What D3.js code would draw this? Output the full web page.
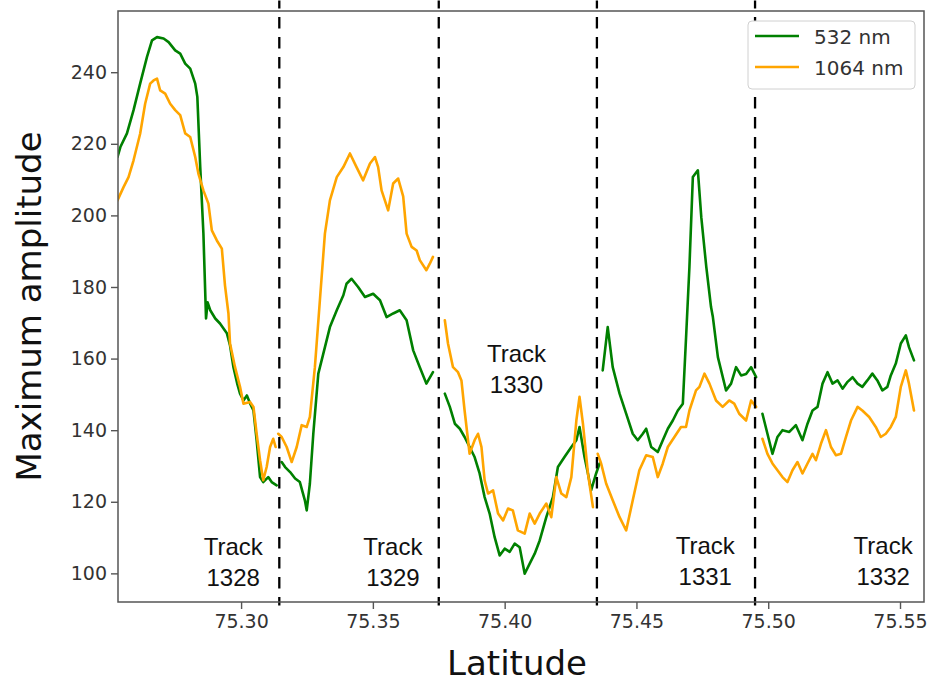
<!DOCTYPE html>
<html>
<head>
<meta charset="utf-8">
<script src="https://cdn.jsdelivr.net/npm/d3@7"></script>
<style>
  html, body { margin: 0; padding: 0; background: #fff; }
</style>
</head>
<body>
<div id="chart"></div>
<script>
// ---- data (latitude, maximum amplitude) ----
const green1328 = [
  [75.2531, 216.3], [75.2542, 219.1], [75.2567, 222.9], [75.2592, 229.4], [75.2617, 236.8],
  [75.2643, 244.3], [75.2662, 248.9], [75.2681, 249.8], [75.2706, 249.4], [75.2725, 248.4],
  [75.2750, 246.1], [75.2769, 245.2], [75.2788, 242.4], [75.2807, 241.0], [75.2826, 236.8],
  [75.2834, 233.1], [75.2845, 213.5], [75.2857, 195.0], [75.2867, 171.2], [75.2873, 175.7],
  [75.2883, 173.5], [75.2902, 171.2], [75.2920, 169.8], [75.2946, 167.1], [75.2958, 163.7],
  [75.2971, 157.6], [75.2985, 153.1], [75.2996, 150.2], [75.3009, 148.3], [75.3022, 149.7],
  [75.3034, 147.5], [75.3047, 145.5], [75.3059, 137.2], [75.3072, 126.9], [75.3084, 125.5],
  [75.3103, 126.9], [75.3116, 125.5], [75.3135, 124.6]
];
const orange1328 = [
  [75.2531, 204.2], [75.2554, 207.9], [75.2573, 210.7], [75.2592, 215.4], [75.2617, 222.8],
  [75.2636, 231.2], [75.2655, 236.8], [75.2668, 237.7], [75.2681, 238.2], [75.2693, 234.9],
  [75.2712, 234.0], [75.2731, 231.2], [75.2750, 229.4], [75.2769, 228.0], [75.2788, 222.9],
  [75.2807, 221.9], [75.2826, 216.3], [75.2838, 211.7], [75.2857, 207.0], [75.2876, 203.3],
  [75.2889, 195.8], [75.2908, 193.0], [75.2927, 190.7], [75.2939, 180.4], [75.2952, 172.6],
  [75.2958, 164.2], [75.2977, 157.6], [75.2996, 152.1], [75.3009, 147.4], [75.3034, 147.9],
  [75.3047, 146.5], [75.3059, 139.0], [75.3072, 131.6], [75.3084, 126.0], [75.3097, 129.7],
  [75.3110, 135.3], [75.3122, 137.6], [75.3131, 135.3]
];
const green1329 = [
  [75.3154, 131.1], [75.3167, 129.7], [75.3186, 128.3], [75.3205, 126.5], [75.3223, 125.5],
  [75.3242, 120.4], [75.3249, 117.6], [75.3261, 125.1], [75.3274, 139.0], [75.3293, 155.8],
  [75.3312, 161.4], [75.3337, 168.8], [75.3363, 173.5], [75.3388, 177.7], [75.3400, 180.9],
  [75.3419, 182.3], [75.3444, 180.0], [75.3470, 177.2], [75.3501, 178.1], [75.3527, 176.3],
  [75.3552, 171.6], [75.3577, 172.6], [75.3602, 173.5], [75.3628, 170.7], [75.3653, 162.3],
  [75.3678, 157.6], [75.3703, 153.0], [75.3728, 156.2]
];
const orange1329 = [
  [75.3141, 139.0], [75.3154, 138.1], [75.3173, 135.3], [75.3192, 131.1], [75.3211, 135.3],
  [75.3230, 141.4], [75.3249, 140.9], [75.3261, 143.7], [75.3280, 157.6], [75.3299, 176.3],
  [75.3318, 194.9], [75.3337, 204.2], [75.3363, 210.7], [75.3388, 213.5], [75.3413, 217.3],
  [75.3438, 213.5], [75.3463, 209.8], [75.3489, 214.5], [75.3508, 216.3], [75.3520, 213.5],
  [75.3533, 207.0], [75.3558, 201.4], [75.3577, 208.9], [75.3596, 210.3], [75.3615, 205.3],
  [75.3628, 194.9], [75.3647, 191.2], [75.3666, 190.2], [75.3678, 187.5], [75.3703, 184.7],
  [75.3716, 186.5], [75.3728, 188.4]
];
const green1330 = [
  [75.3773, 150.2], [75.3792, 146.5], [75.3811, 141.8], [75.3830, 140.4], [75.3848, 138.1],
  [75.3867, 135.3], [75.3886, 132.5], [75.3905, 127.9], [75.3924, 121.3], [75.3943, 116.7],
  [75.3962, 110.1], [75.3981, 105.0], [75.4000, 106.9], [75.4019, 106.0], [75.4038, 108.3],
  [75.4057, 107.3], [75.4076, 99.9], [75.4095, 102.7], [75.4114, 105.5], [75.4133, 109.2],
  [75.4158, 115.7], [75.4183, 121.3], [75.4202, 129.7], [75.4227, 132.5], [75.4253, 135.3],
  [75.4272, 137.2], [75.4284, 140.9], [75.4303, 132.5], [75.4316, 127.9], [75.4328, 123.2],
  [75.4347, 127.9], [75.4360, 130.7]
];
const orange1330 = [
  [75.3773, 170.7], [75.3785, 164.2], [75.3804, 157.6], [75.3823, 156.2], [75.3836, 153.9],
  [75.3848, 145.5], [75.3867, 133.4], [75.3886, 137.2], [75.3899, 139.0], [75.3912, 135.3],
  [75.3924, 126.0], [75.3937, 122.3], [75.3956, 123.2], [75.3975, 116.7], [75.3994, 114.8],
  [75.4013, 118.1], [75.4031, 117.6], [75.4050, 112.0], [75.4076, 111.1], [75.4095, 116.7],
  [75.4114, 113.9], [75.4133, 116.7], [75.4158, 119.5], [75.4177, 115.7], [75.4196, 126.9],
  [75.4215, 122.3], [75.4234, 121.3], [75.4253, 126.9], [75.4272, 142.7], [75.4284, 149.3],
  [75.4297, 141.8], [75.4316, 127.9], [75.4335, 118.5]
];
const green1331 = [
  [75.4372, 156.7], [75.4391, 168.8], [75.4410, 157.6], [75.4436, 150.2], [75.4461, 144.6],
  [75.4486, 139.0], [75.4505, 137.2], [75.4524, 139.0], [75.4537, 140.4], [75.4556, 135.3],
  [75.4581, 133.9], [75.4600, 137.2], [75.4619, 140.4], [75.4638, 142.7], [75.4657, 145.5],
  [75.4676, 147.4], [75.4689, 167.0], [75.4701, 185.6], [75.4714, 210.7], [75.4733, 212.6],
  [75.4746, 199.5], [75.4765, 185.6], [75.4783, 174.4], [75.4790, 171.6], [75.4809, 160.4],
  [75.4840, 151.1], [75.4859, 153.0], [75.4878, 157.6], [75.4897, 155.3], [75.4916, 155.7],
  [75.4935, 157.6], [75.4954, 154.8]
];
const orange1331 = [
  [75.4353, 133.4], [75.4366, 130.7], [75.4385, 125.1], [75.4410, 120.4], [75.4436, 115.7],
  [75.4461, 112.0], [75.4486, 120.4], [75.4511, 128.8], [75.4537, 133.0], [75.4562, 132.5],
  [75.4581, 126.9], [75.4600, 130.7], [75.4619, 135.3], [75.4644, 138.1], [75.4669, 140.9],
  [75.4688, 140.9], [75.4701, 145.5], [75.4726, 151.1], [75.4739, 152.1], [75.4758, 155.8],
  [75.4777, 153.0], [75.4802, 148.3], [75.4827, 146.5], [75.4852, 148.3], [75.4871, 147.4],
  [75.4890, 144.6], [75.4916, 142.7], [75.4935, 148.3], [75.4954, 146.5]
];
const green1332 = [
  [75.4978, 144.6], [75.4997, 139.0], [75.5016, 133.4], [75.5035, 138.1], [75.5054, 140.0],
  [75.5080, 139.5], [75.5105, 141.4], [75.5130, 137.2], [75.5149, 141.8], [75.5168, 145.5],
  [75.5187, 146.5], [75.5206, 153.0], [75.5225, 156.2], [75.5244, 153.0], [75.5263, 153.9],
  [75.5282, 151.6], [75.5301, 153.5], [75.5320, 154.8], [75.5339, 153.0], [75.5357, 152.1],
  [75.5376, 153.9], [75.5395, 155.8], [75.5414, 153.9], [75.5433, 151.1], [75.5452, 152.1],
  [75.5465, 155.3], [75.5484, 158.6], [75.5503, 164.2], [75.5522, 166.5], [75.5534, 163.2],
  [75.5553, 159.5]
];
const orange1332 = [
  [75.4978, 137.6], [75.4997, 133.4], [75.5016, 130.7], [75.5035, 128.8], [75.5054, 126.9],
  [75.5073, 125.5], [75.5092, 128.8], [75.5111, 131.1], [75.5130, 127.9], [75.5149, 130.7],
  [75.5168, 133.4], [75.5181, 131.6], [75.5200, 136.2], [75.5219, 140.0], [75.5238, 135.3],
  [75.5257, 133.0], [75.5276, 133.4], [75.5295, 138.1], [75.5314, 142.7], [75.5339, 146.5],
  [75.5357, 145.5], [75.5383, 143.7], [75.5408, 140.9], [75.5427, 138.1], [75.5446, 139.0],
  [75.5465, 140.9], [75.5484, 143.7], [75.5503, 152.1], [75.5522, 156.7], [75.5534, 153.0],
  [75.5553, 145.5]
];

const trackBoundaries = [75.3145, 75.375, 75.435, 75.495];
const trackLabels = [
  { name: "1328", lat: 75.2970, value: 105.0 },
  { name: "1329", lat: 75.3576, value: 105.0 },
  { name: "1330", lat: 75.4045, value: 159.0 },
  { name: "1331", lat: 75.4761, value: 105.5 },
  { name: "1332", lat: 75.5436, value: 105.5 }
];
const xTicks = [75.30, 75.35, 75.40, 75.45, 75.50, 75.55];
const yTicks = [100, 120, 140, 160, 180, 200, 220, 240];

const seriesNames = ["532 nm", "1064 nm"];
const seriesColors = { "532 nm": "#008000", "1064 nm": "#ffa500" };
const segments532 = [green1328, green1329, green1330, green1331, green1332];
const segments1064 = [orange1328, orange1329, orange1330, orange1331, orange1332];

// ---- layout ----
const width = 930;
const height = 682;
const marginTop = 11;
const marginRight = 6;
const marginBottom = 80;
const marginLeft = 118;

const tickFont = "'DejaVu Sans', sans-serif";
const tickSize = 19;
const labelSize = 34;

const svg = d3
  .create("svg")
  .attr("viewBox", [0, 0, width, height])
  .attr("width", width)
  .attr("height", height)
  .style("font-family", tickFont);

const x = d3
  .scaleLinear()
  .domain([75.2533, 75.5591])
  .range([marginLeft, width - marginRight]);

const y = d3
  .scaleLinear()
  .domain([92.0, 257.1])
  .range([height - marginBottom, marginTop]);

const plotBottom = y.range()[0];

// series lines
const line = d3
  .line()
  .x((d) => x(d[0]))
  .y((d) => y(d[1]));

svg.append("clipPath")
  .attr("id", "plot-clip")
  .append("rect")
  .attr("x", marginLeft)
  .attr("y", marginTop)
  .attr("width", width - marginRight - marginLeft)
  .attr("height", plotBottom - marginTop);

const linesG = svg.append("g").attr("clip-path", "url(#plot-clip)");

function drawSegments(segments, color) {
  linesG.append("g")
    .selectAll("path")
    .data(segments)
    .join("path")
    .attr("fill", "none")
    .attr("stroke", color)
    .attr("stroke-width", 2.6)
    .attr("stroke-linejoin", "round")
    .attr("stroke-linecap", "round")
    .attr("d", line);
}

drawSegments(segments532, seriesColors["532 nm"]);
drawSegments(segments1064, seriesColors["1064 nm"]);

// track boundaries (run slightly past the frame, like the original)
svg.append("g")
  .selectAll("line")
  .data(trackBoundaries)
  .join("line")
  .attr("x1", (d) => x(d))
  .attr("x2", (d) => x(d))
  .attr("y1", y(91))
  .attr("y2", y(260))
  .attr("stroke", "#000")
  .attr("stroke-width", 2.3)
  .attr("stroke-dasharray", "11.5,8.5")
  .attr("stroke-dashoffset", 3);

// track labels
const labelG = svg.append("g")
  .attr("font-family", "'Liberation Sans', Arial, sans-serif")
  .attr("font-size", 24)
  .attr("fill", "#111")
  .attr("text-anchor", "middle");

trackLabels.forEach((t) => {
  const txt = labelG.append("text")
    .attr("x", x(t.lat))
    .attr("y", y(t.value));
  txt.append("tspan").attr("x", x(t.lat)).text("Track");
  txt.append("tspan").attr("x", x(t.lat)).attr("dy", 31).text(t.name);
});

// axes
const xAxis = svg.append("g")
  .attr("transform", `translate(0,${plotBottom})`)
  .call(d3.axisBottom(x).tickValues(xTicks).tickFormat(d3.format(".2f")).tickSize(7).tickPadding(6));

const yAxis = svg.append("g")
  .attr("transform", `translate(${marginLeft},0)`)
  .call(d3.axisLeft(y).tickValues(yTicks).tickFormat(d3.format("d")).tickSize(7).tickPadding(4));

[xAxis, yAxis].forEach((g) => {
  g.select(".domain").remove();
  g.selectAll(".tick line").attr("stroke", "#555").attr("stroke-width", 1.4);
  g.selectAll(".tick text")
    .attr("font-family", tickFont)
    .attr("font-size", tickSize)
    .attr("fill", "#333");
});

// frame
svg.append("rect")
  .attr("x", marginLeft)
  .attr("y", marginTop)
  .attr("width", width - marginRight - marginLeft)
  .attr("height", plotBottom - marginTop)
  .attr("fill", "none")
  .attr("stroke", "#555")
  .attr("stroke-width", 1.5);

// axis titles
svg.append("text")
  .attr("x", (marginLeft + width - marginRight) / 2 - 4)
  .attr("y", 675)
  .attr("text-anchor", "middle")
  .attr("font-size", labelSize)
  .attr("fill", "#111")
  .text("Latitude");

svg.append("text")
  .attr("transform", "rotate(-90)")
  .attr("x", -(marginTop + plotBottom) / 2)
  .attr("y", 41)
  .attr("text-anchor", "middle")
  .attr("font-size", labelSize)
  .attr("fill", "#111")
  .text("Maximum amplitude");

// legend (opaque, covers the last boundary line)
const legend = svg.append("g").attr("transform", "translate(748,21)");

legend.append("rect")
  .attr("width", 167)
  .attr("height", 68)
  .attr("rx", 4)
  .attr("fill", "#fff")
  .attr("stroke", "#d0d0d0")
  .attr("stroke-width", 1);

const legendItems = legend.selectAll("g.item")
  .data(seriesNames)
  .join("g")
  .attr("class", "item")
  .attr("transform", (d, i) => `translate(0,${15 + i * 31})`);

legendItems.append("line")
  .attr("x1", 7)
  .attr("x2", 51)
  .attr("stroke", (d) => seriesColors[d])
  .attr("stroke-width", 2.6);

legendItems.append("text")
  .attr("x", 66)
  .attr("y", 8)
  .attr("font-size", 20)
  .attr("fill", "#333")
  .text((d) => d);

document.getElementById("chart").appendChild(svg.node());
</script>
</body>
</html>
